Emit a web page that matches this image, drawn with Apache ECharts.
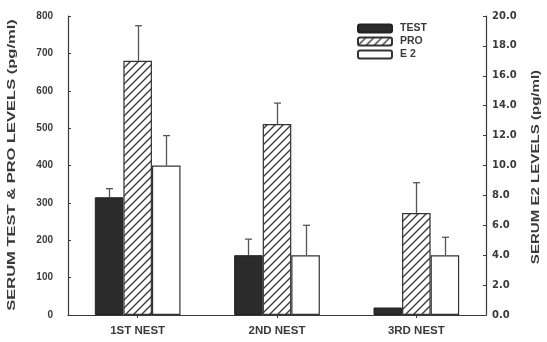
<!DOCTYPE html>
<html>
<head>
<meta charset="utf-8">
<script src="https://cdn.jsdelivr.net/npm/echarts@6/dist/echarts.min.js"></script>
<style>
  html, body { margin: 0; padding: 0; background: #fff; }
  #chart { width: 547px; height: 342px; }
</style>
</head>
<body>
<div id="chart"></div>
<script>
// Nest categories
const categories = ['1ST NEST', '2ND NEST', '3RD NEST'];

// Serum testosterone (pg/ml), left axis
const testMean = [315, 160, 20];
const testUpper = [338, 203, 20];

// Serum progesterone (pg/ml), left axis
const proMean = [680, 511, 273];
const proUpper = [774, 567, 354];

// Serum estradiol (pg/ml), right axis
const e2Mean = [10.0, 4.0, 4.0];
const e2Upper = [12.0, 6.0, 5.2];

// Axis ticks
const leftTicks = { min: 0, max: 800, interval: 100 };
const rightTicks = { min: 0, max: 20, interval: 2 };

// Axis titles
const leftTitle = 'SERUM TEST & PRO LEVELS (pg/ml)';
const rightTitle = 'SERUM E2 LEVELS (pg/ml)';

const INK = '#3a3a3a';
const FONT = '"Liberation Sans", Arial, sans-serif';
const WIDE = '"DejaVu Sans", sans-serif';

// Diagonal hatch tile for the PRO bars
function hatchPattern() {
  const s = 8;
  const c = document.createElement('canvas');
  c.width = s; c.height = s;
  const g = c.getContext('2d');
  g.fillStyle = '#fff';
  g.fillRect(0, 0, s, s);
  g.strokeStyle = '#3c3c3c';
  g.lineWidth = 1.4;
  g.beginPath();
  g.moveTo(-1, s + 1); g.lineTo(s + 1, -1);
  g.moveTo(-1, 1); g.lineTo(1, -1);
  g.moveTo(s - 1, s + 1); g.lineTo(s + 1, s - 1);
  g.stroke();
  return { image: c, repeat: 'repeat' };
}

const BAR_FRAC = 0.205;

// Upward error whisker with a short cap, placed over bar slot `slot` (0..2)
function errorSeries(name, upper, mean, axisIndex, slot) {
  return {
    type: 'custom',
    name: name + ' err',
    yAxisIndex: axisIndex,
    z: 1,
    silent: true,
    data: upper.map((u, i) => [i, u, mean[i]]),
    renderItem: function (params, api) {
      const band = api.size([1, 0])[0];
      const bw = band * BAR_FRAC;
      const base = api.coord([api.value(0), api.value(2)]);
      const top = api.coord([api.value(0), api.value(1)]);
      const x = Math.round(base[0] + (slot - 1) * bw) + 0.5;
      if (Math.abs(top[1] - base[1]) < 1) return null;
      const half = 3.5;
      return {
        type: 'group',
        children: [
          { type: 'line', shape: { x1: x, y1: base[1], x2: x, y2: top[1] },
            style: { stroke: '#555', lineWidth: 1.3 } },
          { type: 'line', shape: { x1: x - half, y1: top[1], x2: x + half, y2: top[1] },
            style: { stroke: '#555', lineWidth: 1.3 } }
        ]
      };
    }
  };
}

const chart = echarts.init(document.getElementById('chart'), null, { renderer: 'canvas' });

const axisText = { color: INK, fontFamily: FONT, fontWeight: 'bold', fontSize: 10 };

// Rotated, lengthened axis title drawn as a graphic text element
function axisTitle(text, x, y, stretch) {
  return {
    type: 'text',
    x: x, y: y,
    rotation: Math.PI / 2,
    scaleX: stretch,
    style: {
      text: text,
      fill: INK,
      font: 'bold 11px ' + FONT,
      align: 'center',
      verticalAlign: 'middle'
    }
  };
}

chart.setOption({
  animation: false,
  backgroundColor: '#fff',
  textStyle: { fontFamily: FONT },
  grid: { left: 68, right: 61, top: 16, bottom: 27, containLabel: false },
  graphic: [
    axisTitle(leftTitle, 12, 165, 1.5),
    axisTitle(rightTitle, 536, 167, 1.37)
  ],
  legend: {
    orient: 'vertical',
    left: 357,
    top: 23,
    padding: 0,
    itemWidth: 34,
    itemHeight: 8,
    itemGap: 2,
    selectedMode: false,
    data: ['TEST', 'PRO', 'E 2'],
    textStyle: { color: INK, fontFamily: FONT, fontWeight: 'bold', fontSize: 10.5, padding: [0, 0, 0, 3] }
  },
  xAxis: {
    type: 'category',
    data: categories,
    axisLine: { lineStyle: { color: INK, width: 1.2 } },
    axisTick: { show: true, alignWithLabel: true, length: 3, lineStyle: { color: INK } },
    axisLabel: { ...axisText, fontSize: 11.5, margin: 10 },
    splitLine: { show: false }
  },
  yAxis: [
    {
      type: 'value',
      min: leftTicks.min, max: leftTicks.max, interval: leftTicks.interval,
      axisLine: { show: true, lineStyle: { color: INK, width: 1.2 } },
      axisTick: { show: true, inside: true, length: 3, lineStyle: { color: INK } },
      axisLabel: { ...axisText, margin: 15 },
      splitLine: { show: false }
    },
    {
      type: 'value',
      position: 'right',
      min: rightTicks.min, max: rightTicks.max, interval: rightTicks.interval,
      axisLine: { show: true, lineStyle: { color: INK, width: 1.2 } },
      axisTick: { show: true, inside: true, length: 3, lineStyle: { color: INK } },
      axisLabel: { ...axisText, fontFamily: WIDE, fontSize: 10, margin: 6, formatter: v => v.toFixed(1) },
      splitLine: { show: false }
    }
  ],
  series: [
    {
      name: 'TEST', type: 'bar', yAxisIndex: 0, data: testMean,
      barWidth: (BAR_FRAC * 100) + '%', barGap: '0%', z: 2,
      itemStyle: { color: '#2b2b2b', borderColor: '#222', borderWidth: 1 }
    },
    {
      name: 'PRO', type: 'bar', yAxisIndex: 0, data: proMean,
      barWidth: (BAR_FRAC * 100) + '%', barGap: '0%', z: 2,
      itemStyle: { color: hatchPattern(), borderColor: '#333', borderWidth: 1.2 }
    },
    {
      name: 'E 2', type: 'bar', yAxisIndex: 1, data: e2Mean,
      barWidth: (BAR_FRAC * 100) + '%', barGap: '0%', z: 2,
      itemStyle: { color: '#fff', borderColor: '#333', borderWidth: 1.2 }
    },
    errorSeries('TEST', testUpper, testMean, 0, 0),
    errorSeries('PRO', proUpper, proMean, 0, 1),
    errorSeries('E 2', e2Upper, e2Mean, 1, 2)
  ]
});
</script>
</body>
</html>
